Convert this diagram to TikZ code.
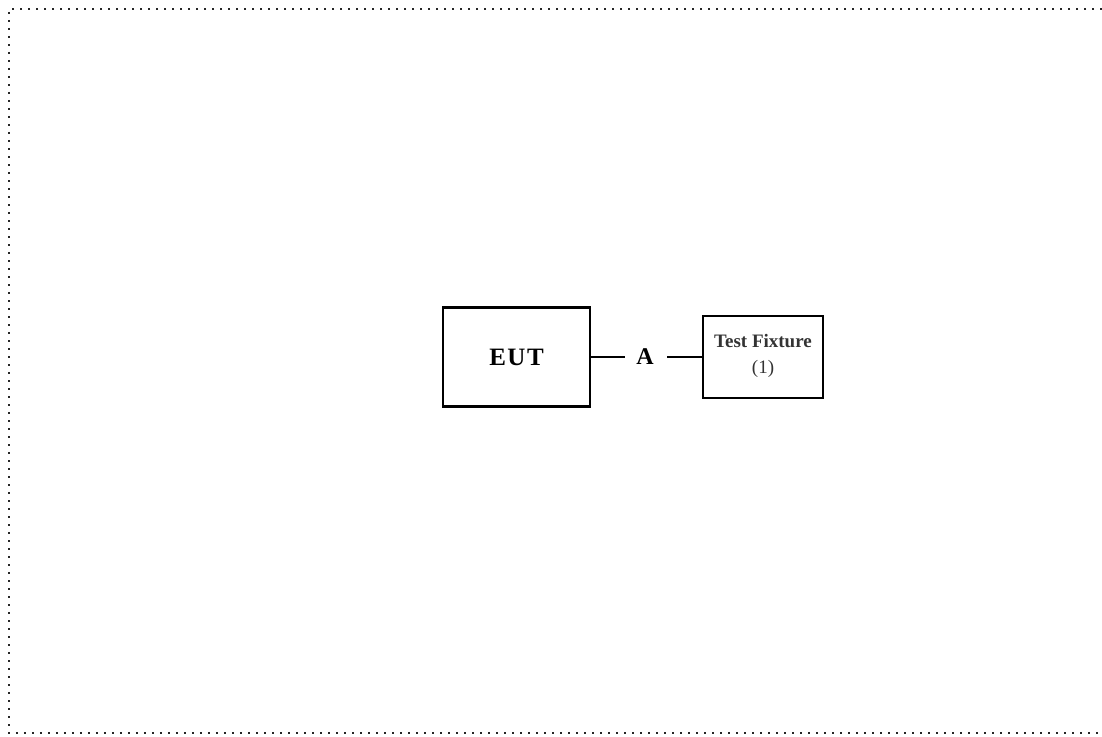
\documentclass[tikz,border=0pt]{standalone}
\usepackage{fontspec}
\setmainfont{Liberation Serif}
\begin{document}
\begin{tikzpicture}[x=1pt,y=-1pt,
  boxstyle/.style={draw=black,line width=2.8pt,inner sep=0pt},
  bordstyle/.style={line width=2.2pt,dash pattern=on 2.2pt off 5.8pt,draw=black!85},
  wire/.style={line width=2.6pt}]
\useasboundingbox (0,0) rectangle (1102,736);
\draw[bordstyle] (1102,9) -- (9,9) -- (9,733) -- (1102,733);
\node[boxstyle,minimum width=147pt,minimum height=99pt] (eut) at (516.5,357) {};
\node[font=\bfseries\fontsize{25}{25}\selectfont] (eutlbl) at (516.5,357) {E\kern1.5ptU\kern1.5ptT};
\node[boxstyle,minimum width=120pt,minimum height=82pt] (tf) at (763,357) {};
\node[font=\bfseries\fontsize{19}{23}\selectfont,text=black!80,align=center] (tflbl) at (763,356) {Test Fixture\\[3pt]\mdseries(1)};
\node[font=\bfseries\fontsize{24}{24}\selectfont,inner sep=0pt] (a) at (645,357) {A};
\coordinate (al) at (625,357);
\coordinate (ar) at (667,357);
\draw[wire] (eut.east) -- (al);
\draw[wire] (ar) -- (tf.west);
\end{tikzpicture}
\end{document}
